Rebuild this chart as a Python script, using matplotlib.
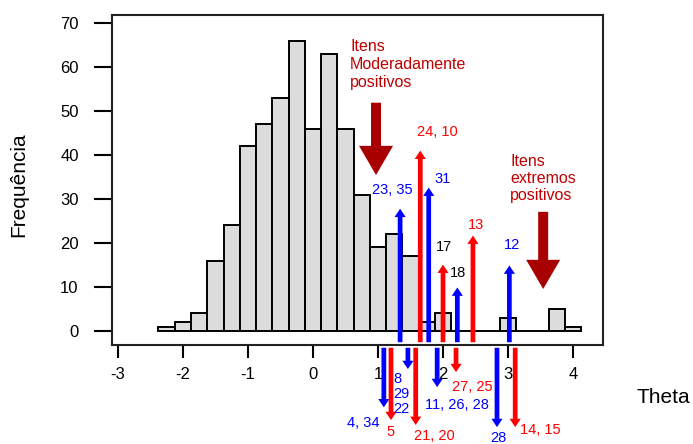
import matplotlib
matplotlib.use("Agg")
import matplotlib.pyplot as plt
from matplotlib.patches import FancyArrowPatch

plt.rcParams['font.family'] = ['Liberation Sans', 'DejaVu Sans']
plt.rcParams['axes.unicode_minus'] = False

# histogram of theta (bins of 0.25)
bin_centers = [-2.25, -2.0, -1.75, -1.5, -1.25, -1.0, -0.75, -0.5, -0.25, 0.0,
               0.25, 0.5, 0.75, 1.0, 1.25, 1.5, 1.75, 2.0, 2.25, 2.5,
               2.75, 3.0, 3.25, 3.5, 3.75, 4.0]
counts = [1, 2, 4, 16, 24, 42, 47, 53, 66, 46,
          63, 46, 31, 19, 22, 17, 2, 4, 0, 0,
          0, 3, 0, 0, 5, 1]

# item arrows pointing up (inside the plot)
up_theta = [1.34, 1.65, 1.78, 2.0, 2.22, 2.46, 3.02]
up_top = [28.4, 41.6, 33.2, 15.7, 10.5, 22.3, 15.5]
up_color = ['blue', 'red', 'blue', 'red', 'blue', 'red', 'blue']
up_labels = ['23, 35', '24, 10', '31', '17', '18', '13', '12']
up_label_color = ['blue', 'red', 'blue', 'black', 'black', 'red', 'blue']

# item arrows pointing down (below the axis)
down_theta = [1.09, 1.2, 1.46, 1.58, 1.91, 2.2, 2.83, 3.11]
down_tip = [-18.0, -20.9, -9.3, -22.0, -13.4, -10.0, -22.5, -22.5]
down_color = ['blue', 'red', 'blue', 'red', 'blue', 'red', 'blue', 'red']
down_labels = ['4, 34', '5', '8\n29\n22', '21, 20', '11, 26, 28', '27, 25', '28', '14, 15']

fig = plt.figure(figsize=(6.93, 4.44), dpi=100)
ax = fig.add_axes([112 / 693, 99 / 444, 491 / 693, 330 / 444])

ax.bar(bin_centers, counts, width=0.25, color='#dcdcdc', edgecolor='black',
       linewidth=1.4, zorder=2)

base = -3.2
small = 'simple,head_length=0.6,head_width=0.8,tail_width=0.34'
for th, top, c in zip(up_theta, up_top, up_color):
    ax.add_patch(FancyArrowPatch((th, base), (th, top), arrowstyle=small,
                                 mutation_scale=10, color=c, lw=0, zorder=4, clip_on=False))
for th, tip, c in zip(down_theta, down_tip, down_color):
    ax.add_patch(FancyArrowPatch((th, base), (th, tip), arrowstyle=small,
                                 mutation_scale=10, color=c, lw=0, zorder=4, clip_on=False))

# number labels
up_pos = [(1.22, 32.0), (1.91, 45.2), (2.0, 34.5), (2.02, 19.1), (2.23, 13.2), (2.51, 24.1), (3.06, 19.5)]
for (x, y), t, c in zip(up_pos, up_labels, up_label_color):
    ax.text(x, y, t, color=c, fontsize=10.5, ha='center', va='center', zorder=5)

down_pos = [(0.78, -20.9), (1.2, -23.0), (1.23, -14.3), (1.86, -23.9),
            (2.22, -16.8), (2.45, -12.7), (2.85, -24.3), (3.49, -22.5)]
for (x, y), t, c in zip(down_pos, down_labels, down_color):
    ha = 'left' if '\n' in t else 'center'
    ax.text(x, y, t, color=c, fontsize=10.5, ha=ha, va='center', linespacing=1.1,
            zorder=5, clip_on=False)

# big arrows with notes
dark_red = '#a80000'
big = 'simple,head_length=2.1,head_width=2.45,tail_width=0.72'
ax.add_patch(FancyArrowPatch((0.97, 52.5), (0.97, 34.8), arrowstyle=big,
                             mutation_scale=10, color=dark_red, lw=0, zorder=4))
ax.add_patch(FancyArrowPatch((3.54, 27.7), (3.54, 8.9), arrowstyle=big,
                             mutation_scale=10, color=dark_red, lw=0, zorder=4))
ax.text(0.57, 60.5, 'Itens\nModeradamente\npositivos', color='#c00000', fontsize=11.5,
        ha='left', va='center', linespacing=1.25)
ax.text(3.03, 34.6, 'Itens\nextremos\npositivos', color='#c00000', fontsize=11.5,
        ha='left', va='center', linespacing=1.15)

ax.set_xlim(-3.09, 4.46)
ax.set_ylim(-3.2, 71.8)
ax.set_xticks(range(-3, 5))
ax.set_yticks(range(0, 71, 10))
ax.tick_params(axis='x', length=9, width=1.5, pad=7, labelsize=12)
ax.tick_params(axis='y', length=13, width=1.5, pad=11, labelsize=12)
for s in ax.spines.values():
    s.set_linewidth(1.5)
    s.set_color('#222222')

fig.text(663 / 693, 1 - 397 / 444, 'Theta', fontsize=15, ha='center', va='center')
fig.text(19 / 693, 1 - 185 / 444, 'Frequência', fontsize=15, ha='center', va='center',
         rotation=90)

fig.savefig('out.png', dpi=100)
